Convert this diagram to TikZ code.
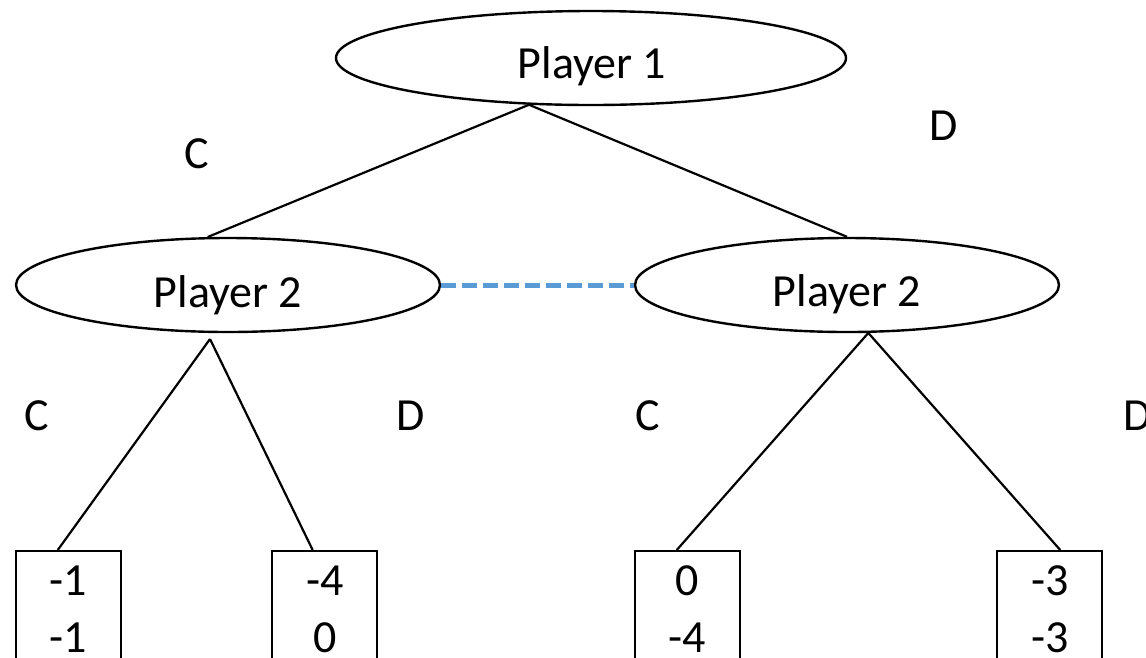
\documentclass[tikz,border=0pt]{standalone}
\usepackage{fontspec}
\setmainfont{Carlito}
\usetikzlibrary{shapes.geometric,calc}
\definecolor{infoblue}{RGB}{91,155,213}
\begin{document}
\begin{tikzpicture}[x=1pt,y=-1pt,
  every node/.style={font=\fontsize{46}{55}\selectfont},
  player/.style={draw,ellipse,line width=2.4pt,inner sep=0pt,minimum height=94pt},
  payoff/.style={draw,rectangle,line width=2.4pt,inner sep=0pt,minimum width=105pt,minimum height=200pt,anchor=north},
  txt/.style={anchor=base,inner sep=0pt,text depth=0pt},
  edge/.style={line width=2.2pt},
  infoset/.style={draw=infoblue,line width=5pt,dash pattern=on 15pt off 6pt}]
\useasboundingbox (0,0) rectangle (1146,657);
\fill[white] (0,0) rectangle (1146,657);
\clip (0,0) rectangle (1146,657);

% player nodes
\node[player,minimum width=510pt] (p1) at (591,58) {};
\node[player,minimum width=424pt] (p2l) at (228,285) {};
\node[player,minimum width=424pt] (p2r) at (847,285) {};
\node[txt] (p1t) at (592,78) {Player 1};
\node[txt] (p2lt) at (228,307) {Player 2};
\node[txt] (p2rt) at (847,306) {Player 2};

% payoff boxes
\node[payoff] (b1) at (68.5,550) {};
\node[payoff] (b2) at (324.5,550) {};
\node[payoff] (b3) at (687.5,550) {};
\node[payoff] (b4) at (1049.5,550) {};
\node[txt] (b1a) at (68,595) {-1};
\node[txt] (b1b) at (68,652) {-1};
\node[txt] (b2a) at (325,595) {-4};
\node[txt] (b2b) at (325,652) {0};
\node[txt] (b3a) at (687,595) {0};
\node[txt] (b3b) at (687,652) {-4};
\node[txt] (b4a) at (1050,595) {-3};
\node[txt] (b4b) at (1050,652) {-3};

% action labels
\node[txt] (c1) at (197,168) {C};
\node[txt] (d1) at (944,140) {D};
\node[txt] (c2) at (37,430) {C};
\node[txt] (d2) at (411,430) {D};
\node[txt] (c3) at (648,430) {C};
\node[txt] (d3) at (1138,430) {D};

% connectors
\coordinate (p2lb) at (210,339);
\draw[edge] (p1.217) -- (p2l.113.6);
\draw[edge] (p1.217) -- (p2r.north);
\draw[edge] (p2lb) -- ($(b1.north west)!0.40!(b1.north east)$);
\draw[edge] (p2lb) -- ($(b2.north west)!0.39!(b2.north east)$);
\draw[edge] (p2r.-66.4) -- ($(b3.north west)!0.40!(b3.north east)$);
\draw[edge] (p2r.-66.4) -- ($(b4.north west)!0.60!(b4.north east)$);

% information set
\draw[infoset] (p2l.east) -- (p2r.west);
\end{tikzpicture}
\end{document}
